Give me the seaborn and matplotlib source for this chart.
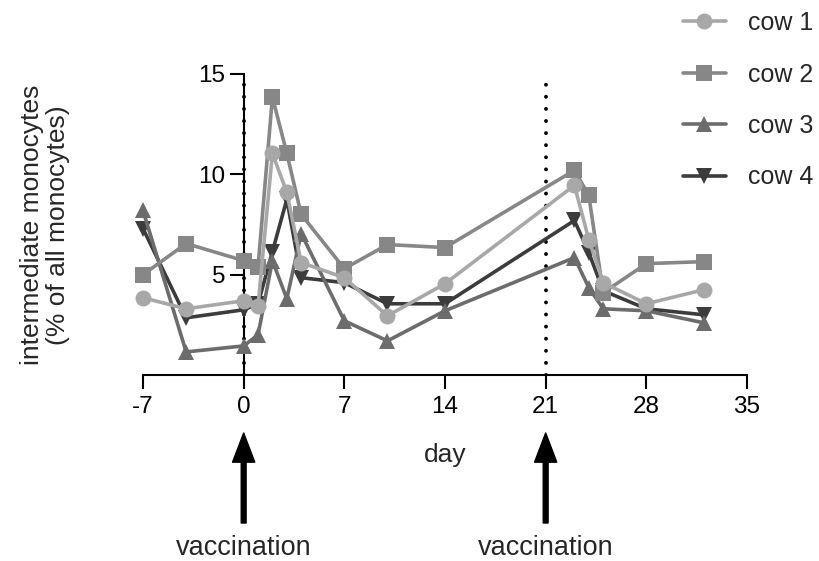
import pandas as pd
import matplotlib.pyplot as plt
import seaborn as sns

# sampling days and values (% of all monocytes) per cow
days = [-7, -4, 0, 1, 2, 3, 4, 7, 10, 14, 23, 24, 25, 28, 32]
cow1 = [3.85, 3.3, 3.7, 3.45, 11.05, 9.1, 5.6, 4.85, 2.95, 4.55, 9.45, 6.75, 4.6, 3.55, 4.25]
cow2 = [5.0, 6.55, 5.7, 5.4, 13.85, 11.05, 8.0, 5.3, 6.5, 6.35, 10.2, 8.95, 4.1, 5.55, 5.65]
cow3 = [8.2, 1.15, 1.45, 2.0, 5.7, 3.8, 7.05, 2.7, 1.7, 3.2, 5.85, 4.35, 3.3, 3.2, 2.6]
cow4 = [7.3, 2.85, 3.25, 3.55, 6.15, 8.75, 4.85, 4.6, 3.55, 3.55, 7.7, 6.1, 4.2, 3.3, 3.0]
cows = ['cow 1', 'cow 2', 'cow 3', 'cow 4']
vacc_days = [0, 21]
xticks = [-7, 0, 7, 14, 21, 28, 35]
yticks = [5, 10, 15]

df = pd.DataFrame({
    'day': days * 4,
    'value': cow1 + cow2 + cow3 + cow4,
    'cow': [c for c in cows for _ in days],
})

sns.set_style('ticks')
plt.rcParams['font.family'] = ['Liberation Sans', 'DejaVu Sans']
plt.rcParams['axes.unicode_minus'] = False

palette = {'cow 1': '#a8a8a8', 'cow 2': '#878787', 'cow 3': '#6c6c6c', 'cow 4': '#3c3c3c'}
markers = {'cow 1': 'o', 'cow 2': 's', 'cow 3': '^', 'cow 4': 'v'}

fig = plt.figure(figsize=(8.19, 5.61), dpi=100)
ax = fig.add_axes([143 / 819, 1 - 375 / 561, 604 / 819, 301 / 561])

sns.lineplot(data=df, x='day', y='value', hue='cow', style='cow', hue_order=cows,
             palette=palette, markers=markers, dashes=False, sort=False,
             linewidth=2.6, markersize=11.5, markeredgewidth=0, ax=ax)

# cow 1 on top, cow 4 at the bottom
for i, line in enumerate(ax.lines[:4]):
    line.set_zorder(10 - i)
    line.set_clip_on(False)

# dotted lines at the vaccinations
for d in vacc_days:
    ax.axvline(d, color='black', linewidth=2.8, linestyle=(0, (0.01, 3.1)),
               dash_capstyle='round', zorder=3)

ax.set_xlim(-7, 35)
ax.set_ylim(0, 15)
ax.set_xticks(xticks)
ax.set_yticks(yticks)
ax.spines['left'].set_position(('data', 0))
ax.spines['top'].set_visible(False)
ax.spines['right'].set_visible(False)
for s in ['left', 'bottom']:
    ax.spines[s].set_linewidth(1.5)
    ax.spines[s].set_color('black')
ax.tick_params(axis='both', length=10, width=1.5, colors='black', labelsize=17.5)
ax.tick_params(axis='x', pad=5)
ax.tick_params(axis='y', pad=3)

ax.set_xlabel('day', fontsize=19)
ax.xaxis.set_label_coords(0.5, -0.225)
ax.set_ylabel('')
fig.text(45 / 819, 1 - 225 / 561, 'intermediate monocytes\n(% of all monocytes)',
         rotation=90, ha='center', va='center', fontsize=19, multialignment='center',
         linespacing=1.1)

# vaccination arrows below the axis
for d in vacc_days:
    ax.annotate('', xy=(d, 1 - 433 / 561), xytext=(d, 1 - 523 / 561),
                xycoords=('data', 'figure fraction'), textcoords=('data', 'figure fraction'),
                arrowprops=dict(arrowstyle='simple,head_length=2.1,head_width=1.6,tail_width=0.35',
                                color='black', mutation_scale=10, shrinkA=0, shrinkB=0),
                annotation_clip=False)
    ax.annotate('vaccination', xy=(d, 1 - 548 / 561), xycoords=('data', 'figure fraction'),
                ha='center', va='center', fontsize=19.5, annotation_clip=False)

sns.move_legend(ax, 'upper left', bbox_to_anchor=(683 / 819, 1 - 11 / 561),
                bbox_transform=fig.transFigure, title=None, frameon=False,
                fontsize=18, labelspacing=1.1, handlelength=1.7, handletextpad=0.9,
                borderpad=0, borderaxespad=0)

plt.savefig('out.png', dpi=100)
